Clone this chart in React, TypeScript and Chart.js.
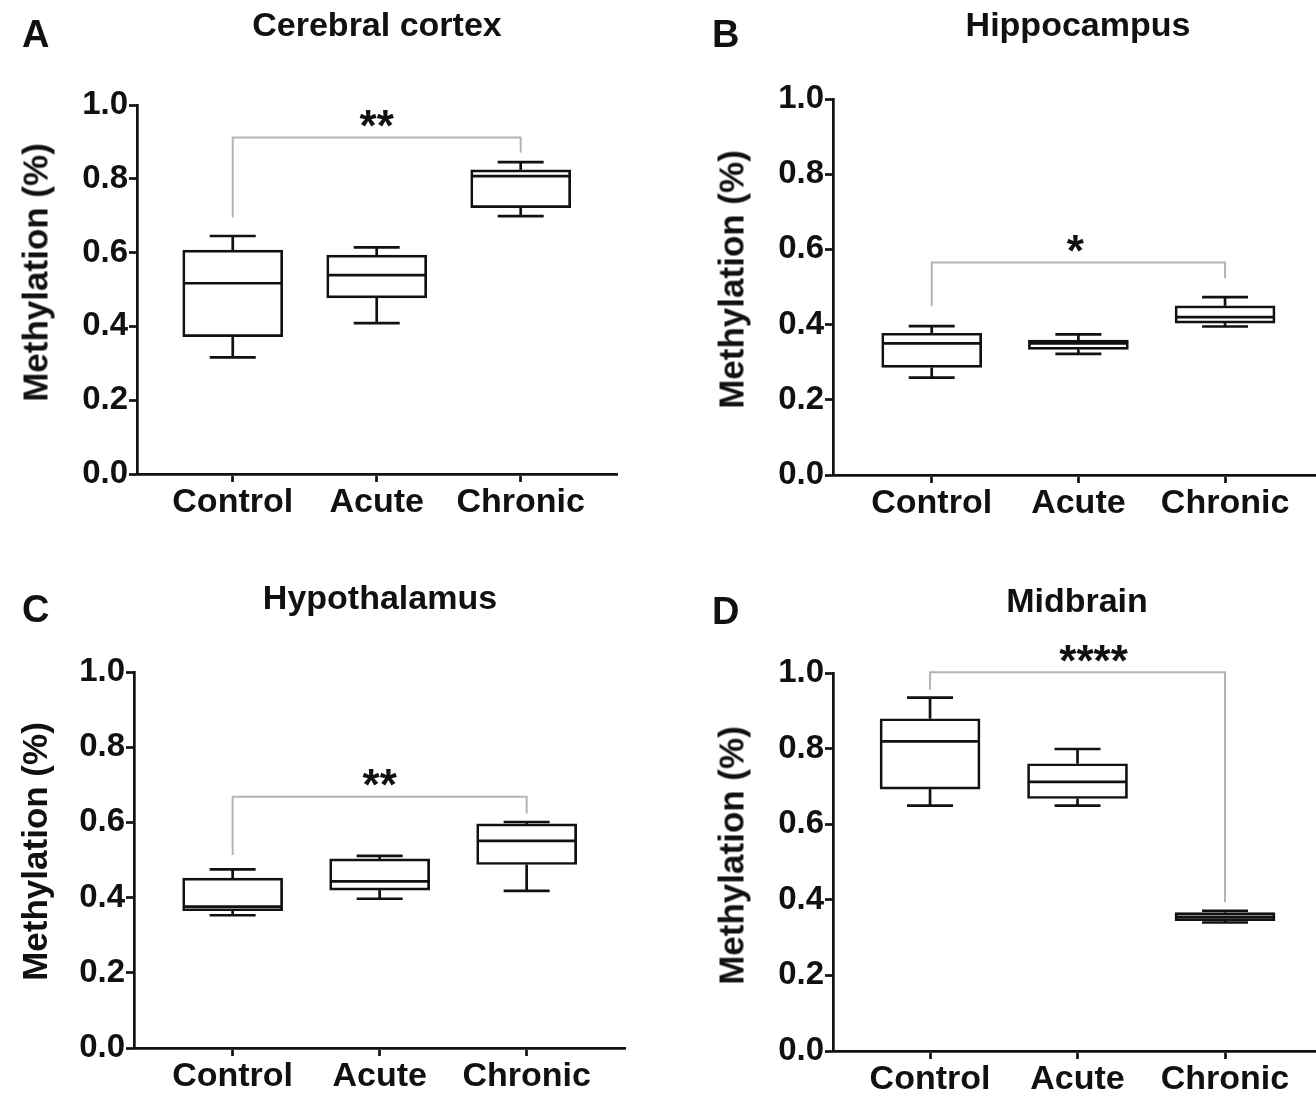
import React, { useEffect, useRef } from 'react';
import { Chart, registerables } from 'chart.js';

Chart.register(...registerables);

const categories = ['Control', 'Acute', 'Chronic'];
const yTickValues = [0, 0.2, 0.4, 0.6, 0.8, 1.0];
const yAxisTitle = 'Methylation (%)';

// A – Cerebral cortex
const cortexMin = [0.316, 0.409, 0.699];
const cortexQ1 = [0.372, 0.477, 0.722];
const cortexMedian = [0.517, 0.539, 0.807];
const cortexQ3 = [0.607, 0.593, 0.824];
const cortexMax = [0.645, 0.614, 0.845];
const cortexBracket = [0.912, 0.695, 0.871]; // bar level, left end, right end
const cortexSig = '**';

// B – Hippocampus
const hippoMin = [0.259, 0.322, 0.395];
const hippoQ1 = [0.286, 0.334, 0.404];
const hippoMedian = [0.350, 0.350, 0.420];
const hippoQ3 = [0.377, 0.359, 0.450];
const hippoMax = [0.396, 0.374, 0.473];
const hippoBracket = [0.565, 0.449, 0.523];
const hippoSig = '*';

// C – Hypothalamus
const hypoMin = [0.353, 0.397, 0.418];
const hypoQ1 = [0.365, 0.420, 0.488];
const hypoMedian = [0.376, 0.443, 0.551];
const hypoQ3 = [0.452, 0.503, 0.596];
const hypoMax = [0.475, 0.511, 0.601];
const hypoBracket = [0.668, 0.513, 0.624];
const hypoSig = '**';

// D – Midbrain
const midMin = [0.649, 0.649, 0.340];
const midQ1 = [0.693, 0.668, 0.345];
const midMedian = [0.819, 0.712, 0.355];
const midQ3 = [0.879, 0.760, 0.366];
const midMax = [0.935, 0.799, 0.371];
const midBracket = [1.002, 0.956, 0.394];
const midSig = '****';

const FONT = '"Liberation Sans", Arial, Helvetica, sans-serif';
const INK = '#111111';
const LW = 2.7;

type Stats = {
  mins: number[]; q1s: number[]; meds: number[]; q3s: number[]; maxs: number[];
  bracket: number[]; sig: string;
};

type Layout = {
  left: number; top: number; w: number; h: number;
  pad: { left: number; top: number; right: number; bottom: number };
  yw: number; xh: number; xMin: number; xMax: number; sigDx: number;
};

const boxExtras = {
  id: 'boxExtras',
  afterDatasetsDraw(chart: any, _args: any, opts: any) {
    const s: Stats = opts.stats;
    if (!s) return;
    const { ctx } = chart;
    const x = chart.scales.x;
    const y = chart.scales.y;
    const capHalf = 23;
    const boxHalf = 49;
    ctx.save();
    ctx.strokeStyle = INK;
    ctx.lineWidth = LW;
    ctx.lineCap = 'butt';
    const line = (x1: number, y1: number, x2: number, y2: number) => {
      ctx.beginPath();
      ctx.moveTo(x1, y1);
      ctx.lineTo(x2, y2);
      ctx.stroke();
    };
    categories.forEach((_c, i) => {
      const cx = x.getPixelForValue(i + 1);
      const pMin = y.getPixelForValue(s.mins[i]);
      const pQ1 = y.getPixelForValue(s.q1s[i]);
      const pMed = y.getPixelForValue(s.meds[i]);
      const pQ3 = y.getPixelForValue(s.q3s[i]);
      const pMax = y.getPixelForValue(s.maxs[i]);
      line(cx, pQ3, cx, pMax);
      line(cx - capHalf, pMax, cx + capHalf, pMax);
      line(cx, pQ1, cx, pMin);
      line(cx - capHalf, pMin, cx + capHalf, pMin);
      line(cx - boxHalf, pMed, cx + boxHalf, pMed);
    });
    // significance bracket
    const bx1 = x.getPixelForValue(1);
    const bx3 = x.getPixelForValue(3);
    const by = y.getPixelForValue(s.bracket[0]);
    ctx.strokeStyle = '#b4b4b4';
    ctx.lineWidth = 2;
    ctx.beginPath();
    ctx.moveTo(bx1, y.getPixelForValue(s.bracket[1]));
    ctx.lineTo(bx1, by);
    ctx.lineTo(bx3, by);
    ctx.lineTo(bx3, y.getPixelForValue(s.bracket[2]));
    ctx.stroke();
    const fs = 44;
    ctx.fillStyle = INK;
    ctx.font = `bold ${fs}px ${FONT}`;
    ctx.textAlign = 'center';
    ctx.textBaseline = 'alphabetic';
    ctx.fillText(s.sig, (bx1 + bx3) / 2 + (opts.sigDx || 0), by - 21 + 0.56 * fs);
    ctx.restore();
  },
};

function BoxPanel({ stats, layout }: { stats: Stats; layout: Layout }) {
  const ref = useRef<HTMLCanvasElement | null>(null);
  useEffect(() => {
    if (!ref.current) return;
    const data = categories.map((_c, i) => ({ x: i + 1, y: [stats.q1s[i], stats.q3s[i]] }));
    const chart = new Chart(ref.current, {
      type: 'bar',
      data: {
        datasets: [
          {
            data: data as any,
            backgroundColor: '#ffffff',
            borderColor: INK,
            borderWidth: LW,
            borderSkipped: false,
            barThickness: 100,
          } as any,
        ],
      },
      options: {
        responsive: false,
        maintainAspectRatio: false,
        animation: false,
        devicePixelRatio: 1,
        layout: { padding: layout.pad },
        plugins: {
          legend: { display: false },
          tooltip: { enabled: false },
          title: { display: false },
          boxExtras: { stats, sigDx: layout.sigDx },
        } as any,
        scales: {
          x: {
            type: 'linear',
            min: layout.xMin,
            max: layout.xMax,
            offset: false,
            afterBuildTicks: (scale: any) => {
              scale.ticks = categories.map((_c, i) => ({ value: i + 1 }));
            },
            afterFit: (scale: any) => {
              scale.height = layout.xh;
            },
            border: { display: true, color: INK, width: LW },
            grid: {
              offset: false,
              drawOnChartArea: false,
              drawTicks: true,
              tickLength: 8,
              tickWidth: LW,
              tickColor: INK,
              color: INK,
            },
            ticks: {
              autoSkip: false,
              maxRotation: 0,
              padding: 0,
              color: INK,
              font: { family: FONT, size: 34, weight: 'bold' },
              callback: (v: any) => categories[Math.round(Number(v)) - 1] ?? '',
            },
          },
          y: {
            type: 'linear',
            min: 0,
            max: 1,
            afterBuildTicks: (scale: any) => {
              scale.ticks = yTickValues.map((v) => ({ value: v }));
            },
            afterFit: (scale: any) => {
              scale.width = layout.yw;
            },
            border: { display: true, color: INK, width: LW },
            grid: {
              drawOnChartArea: false,
              drawTicks: true,
              tickLength: 8,
              tickWidth: LW,
              tickColor: INK,
              color: INK,
            },
            title: { display: false },
            ticks: {
              padding: 1,
              color: INK,
              font: { family: FONT, size: 33, weight: 'bold' },
              callback: (v: any) => Number(v).toFixed(1),
            },
          },
        } as any,
      },
      plugins: [boxExtras as any],
    });
    return () => chart.destroy();
  }, [stats, layout]);
  return (
    <canvas
      ref={ref}
      width={layout.w}
      height={layout.h}
      style={{ position: 'absolute', left: layout.left, top: layout.top, width: layout.w, height: layout.h }}
    />
  );
}

const panels: {
  letter: string; title: string; stats: Stats; layout: Layout;
  letterPos: number[]; titlePos: number[]; yTitlePos: number[];
}[] = [
  {
    letter: 'A',
    title: 'Cerebral cortex',
    stats: { mins: cortexMin, q1s: cortexQ1, meds: cortexMedian, q3s: cortexQ3, maxs: cortexMax, bracket: cortexBracket, sig: cortexSig },
    layout: { left: 0, top: 0, w: 660, h: 540, pad: { left: 14, top: 105, right: 43, bottom: 6 }, yw: 123, xh: 60, xMin: 0.335, xMax: 3.669, sigDx: 0 },
    letterPos: [22, 15],
    titlePos: [377, 7],
    yTitlePos: [35, 272],
  },
  {
    letter: 'B',
    title: 'Hippocampus',
    stats: { mins: hippoMin, q1s: hippoQ1, meds: hippoMedian, q3s: hippoQ3, maxs: hippoMax, bracket: hippoBracket, sig: hippoSig },
    layout: { left: 690, top: 0, w: 626, h: 540, pad: { left: 20, top: 99, right: 0, bottom: 5 }, yw: 123, xh: 60, xMin: 0.327, xMax: 3.62, sigDx: -3 },
    letterPos: [712, 15],
    titlePos: [1078, 7],
    yTitlePos: [731, 279],
  },
  {
    letter: 'C',
    title: 'Hypothalamus',
    stats: { mins: hypoMin, q1s: hypoQ1, meds: hypoMedian, q3s: hypoQ3, maxs: hypoMax, bracket: hypoBracket, sig: hypoSig },
    layout: { left: 0, top: 560, w: 660, h: 537, pad: { left: 14, top: 112, right: 35, bottom: 4 }, yw: 120, xh: 45, xMin: 0.329, xMax: 3.669, sigDx: 0 },
    letterPos: [22, 590],
    titlePos: [380, 580],
    yTitlePos: [34, 851],
  },
  {
    letter: 'D',
    title: 'Midbrain',
    stats: { mins: midMin, q1s: midQ1, meds: midMedian, q3s: midQ3, maxs: midMax, bracket: midBracket, sig: midSig },
    layout: { left: 690, top: 560, w: 626, h: 537, pad: { left: 20, top: 113, right: 0, bottom: 4 }, yw: 123, xh: 42, xMin: 0.342, xMax: 3.617, sigDx: 16 },
    letterPos: [712, 592],
    titlePos: [1077, 583],
    yTitlePos: [731, 855],
  },
];

const Y_TITLE_SIZE = 35;

export default function App() {
  return (
    <div
      style={{
        position: 'absolute',
        left: 0,
        top: 0,
        width: 1316,
        height: 1097,
        overflow: 'hidden',
        background: '#ffffff',
        fontFamily: FONT,
        color: INK,
      }}
    >
      {panels.map((p) => (
        <React.Fragment key={p.letter}>
          <BoxPanel stats={p.stats} layout={p.layout} />
          <div
            style={{
              position: 'absolute',
              left: p.letterPos[0],
              top: p.letterPos[1],
              fontSize: 38,
              lineHeight: '38px',
              fontWeight: 'bold',
              whiteSpace: 'nowrap',
            }}
          >
            {p.letter}
          </div>
          <div
            style={{
              position: 'absolute',
              left: p.titlePos[0] - 300,
              top: p.titlePos[1],
              width: 600,
              textAlign: 'center',
              fontSize: 34,
              lineHeight: '34px',
              fontWeight: 'bold',
              whiteSpace: 'nowrap',
            }}
          >
            {p.title}
          </div>
          <div
            style={{
              position: 'absolute',
              left: p.yTitlePos[0] - 200,
              top: p.yTitlePos[1] - Y_TITLE_SIZE / 2,
              width: 400,
              height: Y_TITLE_SIZE,
              textAlign: 'center',
              fontSize: Y_TITLE_SIZE,
              lineHeight: `${Y_TITLE_SIZE}px`,
              fontWeight: 'bold',
              whiteSpace: 'nowrap',
              transform: 'rotate(-90deg)',
              transformOrigin: '50% 50%',
            }}
          >
            {yAxisTitle}
          </div>
        </React.Fragment>
      ))}
    </div>
  );
}
